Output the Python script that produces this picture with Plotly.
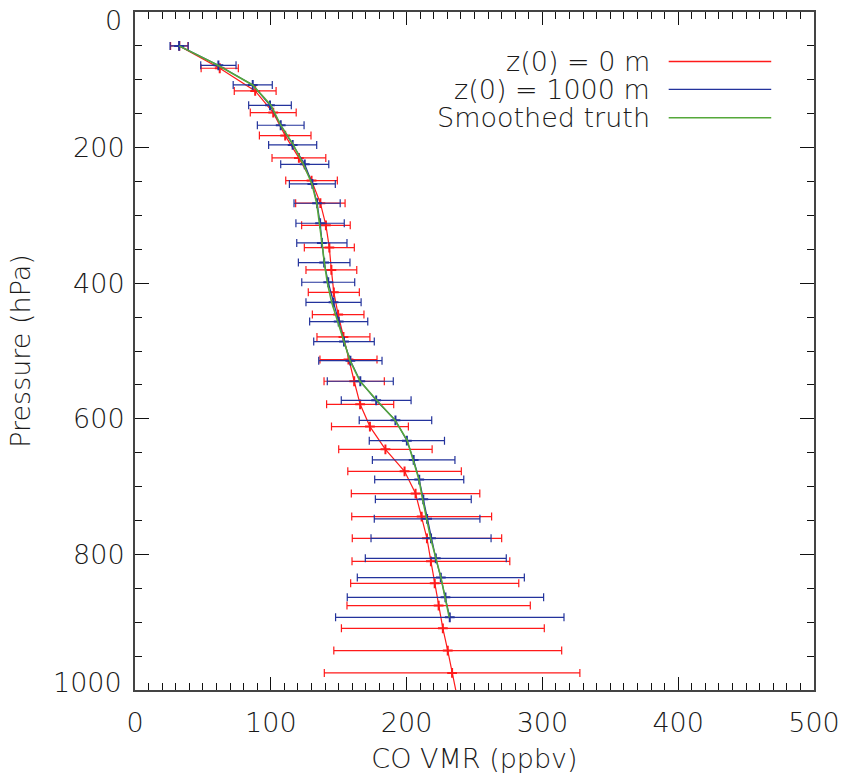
import plotly.graph_objects as go

# Retrieved CO profiles (ppbv) on pressure levels (hPa), with 1-sigma errors
series_names = ["z(0) = 0 m", "z(0) = 1000 m", "Smoothed truth"]
series_colors = ["#ff1a1a", "#23339c", "#55a83a"]

p_z0 = [50, 83, 116.4, 148.4, 182.3, 215.2, 248.7, 282, 314.6, 347.5, 380.4, 413.4,
        446.3, 479.3, 512.7, 544.6, 578.6, 611.5, 645, 677.4, 710.3, 744.2, 776.3,
        810.2, 842.6, 875.5, 909, 941.9, 974.8, 1008]
co_z0 = [32.6, 62.4, 88.5, 101.8, 110.6, 120.7, 130.0, 136.5, 140.6, 143.1, 144.6, 146.4,
         149.6, 153.5, 157.2, 161.4, 165.8, 173.0, 184.4, 198.5, 206.6, 211.1, 215.0,
         217.9, 220.7, 223.6, 226.7, 230.3, 233.5, 237.0]
err_z0 = [6.4, 13.7, 15.4, 16.9, 19.0, 19.8, 19.0, 18.2, 17.9, 18.4, 18.7, 18.8,
          19.0, 19.5, 21.0, 22.2, 24.7, 28.3, 34.4, 41.8, 47.3, 51.5, 55.0,
          58.1, 61.9, 67.5, 74.7, 83.9, 94.1, 105.0]

p_z1000 = [50, 78.6, 107.6, 137.6, 167, 196, 224.6, 253.6, 282.1, 311.6, 340.6, 369.6,
           398.6, 428.2, 456.6, 486.1, 514.2, 544.6, 572.7, 602.2, 632.2, 660.6, 689.7,
           718.7, 747.6, 776.3, 805.8, 834.2, 863.3, 892.8]
co_z1000 = [32.5, 61.4, 86.7, 99.4, 107.3, 116.1, 125.0, 130.6, 134.1, 136.3, 137.6, 139.3,
            142.3, 146.2, 150.0, 153.9, 158.6, 165.9, 177.6, 191.8, 200.2, 205.2, 209.3,
            212.3, 215.1, 218.0, 221.5, 225.2, 228.6, 231.8]
err_z1000 = [6.7, 13.0, 14.4, 15.7, 17.2, 17.7, 17.7, 16.9, 17.0, 17.8, 18.5, 19.0,
             19.5, 20.3, 21.4, 22.3, 23.3, 24.3, 25.7, 26.7, 27.7, 30.4, 32.8,
             35.3, 38.9, 44.2, 51.9, 61.5, 72.3, 84.1]

# Smoothed truth on the z(0) = 1000 m levels
co_truth = [32.5, 61.0, 86.6, 100.1, 107.3, 116.6, 124.0, 130.3, 133.8, 136.0, 137.7, 139.4,
            141.6, 144.8, 149.0, 153.9, 158.3, 165.7, 178.0, 191.5, 200.5, 204.9, 209.1,
            211.8, 215.0, 217.7, 221.6, 225.3, 228.3, 231.4]

x_ticks = [0, 100, 200, 300, 400, 500]
y_ticks = [0, 200, 400, 600, 800, 1000]

FONT = "DejaVu Sans"
WEIGHT = 200
TXT = "#1a1a1a"
tick_font = dict(family=FONT, size=27, color=TXT, weight=WEIGHT)


def profile(x, y, err, color):
    tr = dict(
        x=x, y=y, mode="lines+markers", showlegend=False,
        line=dict(color=color, width=1.2),
        marker=dict(symbol="cross-thin", size=7, line=dict(color=color, width=2)),
    )
    if err is not None:
        tr["error_x"] = dict(type="data", array=err, symmetric=True,
                             color=color, thickness=1.2, width=4)
    else:
        tr["mode"] = "lines"
        tr["line"]["width"] = 1.6
    return go.Scatter(**tr)


fig = go.Figure()
fig.add_trace(profile(co_z0, p_z0, err_z0, series_colors[0]))
fig.add_trace(profile(co_z1000, p_z1000, err_z1000, series_colors[1]))
fig.add_trace(profile(co_truth, p_z1000, None, series_colors[2]))

axis_common = dict(
    showgrid=False, zeroline=False, showline=True, linecolor="#444", linewidth=2,
    mirror="allticks", ticks="inside", tickcolor="#111", tickwidth=1,
    automargin=False, ticklabeloverflow="allow",
    tickfont=tick_font, title_font=tick_font,
)

fig.update_xaxes(
    **axis_common, range=[0, 500], tickvals=x_ticks, ticklen=13,
    minor=dict(dtick=10, ticklen=7, ticks="inside", tickcolor="#111", tickwidth=1),
    title_text="CO VMR (ppbv)", title_standoff=12, ticklabelstandoff=8,
)

# End labels of the pressure axis are pulled inside the frame
y_text = ["" if v in (y_ticks[0], y_ticks[-1]) else str(v) for v in y_ticks]
fig.update_yaxes(
    **axis_common, range=[1000, 0], tickvals=y_ticks, ticktext=y_text, ticklen=14,
    minor=dict(dtick=50, ticklen=7, ticks="inside", tickcolor="#111", tickwidth=1),
    title_text="Pressure (hPa)", title_standoff=35, ticklabelstandoff=3,
)
for v, shift in ((y_ticks[0], -8), (y_ticks[-1], 8)):
    fig.add_annotation(x=0, xref="paper", y=v, yref="y", text=str(v), showarrow=False,
                       xanchor="right", yanchor="middle", xshift=-11, yshift=shift,
                       font=tick_font)

# Legend: labels on the left, line samples on the right
leg_y = [0.927, 0.886, 0.844]
for name, color, yy in zip(series_names, series_colors, leg_y):
    fig.add_annotation(x=0.762, y=yy, xref="paper", yref="paper", text=name,
                       showarrow=False, xanchor="right", yanchor="middle",
                       font=dict(family=FONT, size=27, color=TXT, weight=WEIGHT))
    fig.add_shape(type="line", xref="paper", yref="paper", x0=0.786, x1=0.937,
                  y0=yy, y1=yy, line=dict(color=color, width=1.3))

fig.update_layout(
    width=841, height=776,
    margin=dict(l=135, r=27, t=12, b=86),
    paper_bgcolor="white", plot_bgcolor="white",
    showlegend=False,
)

fig.write_html("out.html")
